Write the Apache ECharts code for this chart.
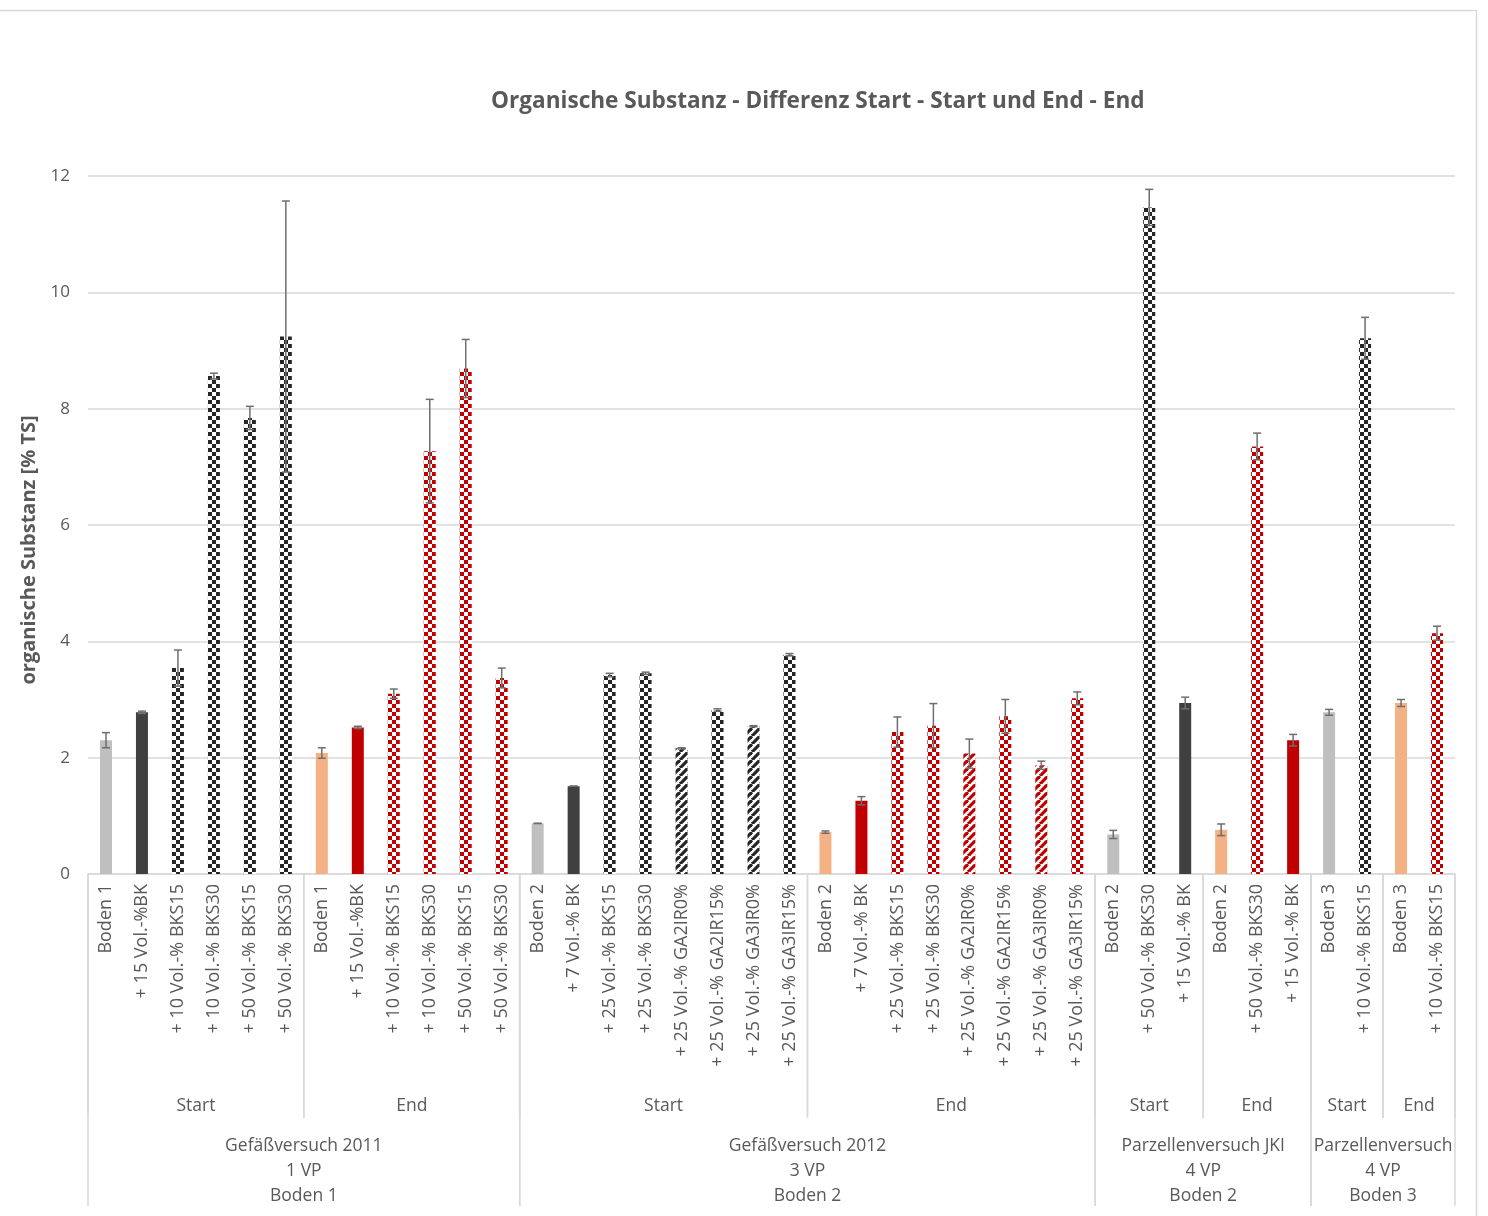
<!DOCTYPE html>
<html>
<head>
<meta charset="utf-8">
<script src="https://cdn.jsdelivr.net/npm/echarts@6/dist/echarts.min.js"></script>
<style>
  html, body { margin: 0; padding: 0; background: #fff; }
  #chart { width: 1488px; height: 1216px; }
</style>
</head>
<body>
<div id="chart"></div>
<script>
// Trials (outer axis level), phases (middle level) and treatments (inner level)
const trialLabels = [
  'Gefäßversuch 2011\n1 VP\nBoden 1',
  'Gefäßversuch 2012\n3 VP\nBoden 2',
  'Parzellenversuch JKI\n4 VP\nBoden 2',
  'Parzellenversuch\n4 VP\nBoden 3'
];
const phaseLabels = ['Start', 'End'];

const treatments = [
  ['Boden 1', '+ 15 Vol.-%BK', '+ 10 Vol.-% BKS15', '+ 10 Vol.-% BKS30', '+ 50 Vol.-% BKS15', '+ 50 Vol.-% BKS30'],
  ['Boden 2', '+ 7 Vol.-% BK', '+ 25 Vol.-% BKS15', '+ 25 Vol.-% BKS30', '+ 25 Vol.-% GA2IR0%', '+ 25 Vol.-% GA2IR15%', '+ 25 Vol.-% GA3IR0%', '+ 25 Vol.-% GA3IR15%'],
  ['Boden 2', '+ 50 Vol.-% BKS30', '+ 15 Vol.-% BK'],
  ['Boden 3', '+ 10 Vol.-% BKS15']
];

// organische Substanz [% TS], mean values
const meanStart = [
  [2.30, 2.78, 3.54, 8.56, 7.84, 9.24],
  [0.87, 1.51, 3.42, 3.45, 2.16, 2.82, 2.54, 3.77],
  [0.68, 11.46, 2.94],
  [2.78, 9.21]
];
const meanEnd = [
  [2.08, 2.52, 3.10, 7.27, 8.69, 3.37],
  [0.72, 1.26, 2.44, 2.55, 2.07, 2.71, 1.87, 3.02],
  [0.76, 7.35, 2.30],
  [2.94, 4.14]
];
// standard deviations
const sdStart = [
  [0.13, 0.02, 0.31, 0.05, 0.20, 2.33],
  [0.00, 0.00, 0.03, 0.02, 0.01, 0.02, 0.01, 0.02],
  [0.07, 0.31, 0.10],
  [0.05, 0.36]
];
const sdEnd = [
  [0.09, 0.02, 0.08, 0.89, 0.50, 0.17],
  [0.02, 0.07, 0.26, 0.38, 0.25, 0.29, 0.07, 0.11],
  [0.10, 0.23, 0.10],
  [0.06, 0.12]
];

const yTicks = [0, 2, 4, 6, 8, 10, 12];

// ---- fill patterns ----
function checker(color) {
  const c = document.createElement('canvas');
  c.width = 8; c.height = 8;
  const g = c.getContext('2d');
  g.fillStyle = '#ffffff'; g.fillRect(0, 0, 8, 8);
  g.fillStyle = color;
  g.fillRect(0, 0, 4, 4);
  g.fillRect(4, 4, 4, 4);
  return { image: c, repeat: 'repeat' };
}
function stripes(color) {
  const n = 8;
  const c = document.createElement('canvas');
  c.width = n; c.height = n;
  const g = c.getContext('2d');
  g.fillStyle = '#ffffff'; g.fillRect(0, 0, n, n);
  g.strokeStyle = color; g.lineWidth = 3.2;
  for (let k = -1; k <= 1; k++) {
    g.beginPath();
    g.moveTo(k * n, n);
    g.lineTo(k * n + n, 0);
    g.stroke();
  }
  return { image: c, repeat: 'repeat' };
}
const palette = {
  Start: { soil: '#BFBFBF', bk: '#404040', check: checker('#262626'), stripe: stripes('#262626') },
  End:   { soil: '#F4B183', bk: '#C00000', check: checker('#C00000'), stripe: stripes('#C00000') }
};
function fillFor(name, phase) {
  const p = palette[phase];
  if (/^Boden/.test(name)) return p.soil;
  if (/BK$/.test(name)) return p.bk;
  if (/IR0%$/.test(name)) return p.stripe;
  return p.check;
}

// ---- flatten into one category axis ----
const categories = [];
const barData = [];
const errData = [];
const phaseSpans = [];
const trialSpans = [];
trialLabels.forEach((trial, t) => {
  const tStart = categories.length;
  [[meanStart, sdStart], [meanEnd, sdEnd]].forEach(([means, sds], ph) => {
    const pStart = categories.length;
    treatments[t].forEach((name, i) => {
      const idx = categories.length;
      categories.push(name);
      const v = means[t][i];
      barData.push({ value: v, itemStyle: { color: fillFor(name, phaseLabels[ph]) } });
      errData.push([idx, v - sds[t][i], v + sds[t][i]]);
    });
    phaseSpans.push([pStart, categories.length - 1, phaseLabels[ph]]);
  });
  trialSpans.push([tStart, categories.length - 1, trial]);
});

const TEXT = '#595959';
const FONT = 'Open Sans';

const chart = echarts.init(document.getElementById('chart'), null, { renderer: 'canvas' });

// outer axis levels: separators and centred labels below the tick labels
function spanRenderer(lineLen, textOffset) {
  return function (params, api) {
    const a = api.value(0), b = api.value(1), label = api.value(2);
    const bw = api.size([1, 0])[0];
    const p0 = api.coord([a, 0]);
    const p1 = api.coord([b, 0]);
    const x0 = p0[0] - bw / 2, x1 = p1[0] + bw / 2, y = p0[1];
    return {
      type: 'group',
      children: [
        { type: 'line', shape: { x1: x0, y1: y, x2: x0, y2: y + lineLen }, style: { stroke: '#D9D9D9', lineWidth: 1.5 } },
        { type: 'line', shape: { x1: x1, y1: y, x2: x1, y2: y + lineLen }, style: { stroke: '#D9D9D9', lineWidth: 1.5 } },
        { type: 'text', x: (x0 + x1) / 2, y: y + textOffset,
          style: { text: label, fill: TEXT, font: '17.5px "' + FONT + '"', align: 'center', verticalAlign: 'top', lineHeight: 25 } }
      ]
    };
  };
}

chart.setOption({
  animation: false,
  backgroundColor: '#ffffff',
  title: {
    text: 'Organische Substanz - Differenz Start - Start und End - End',
    left: 486, top: 85,
    textStyle: { fontFamily: FONT, fontSize: 22.6, fontWeight: 'bold', color: TEXT }
  },
  graphic: [
    { type: 'polyline', shape: { points: [[0, 10.5], [1476.5, 10.5], [1476.5, 1216]] }, style: { stroke: '#D9D9D9', lineWidth: 1.5, fill: null } }
  ],
  grid: { left: 88, right: 33, top: 176, bottom: 342, containLabel: false },
  xAxis: {
    type: 'category',
    data: categories,
    axisLine: { lineStyle: { color: '#D9D9D9', width: 1.5 } },
    axisTick: { show: false },
    axisLabel: { interval: 0, rotate: 90, color: TEXT, fontFamily: FONT, fontSize: 18, margin: 10 }
  },
  yAxis: {
    type: 'value',
    min: yTicks[0], max: yTicks[yTicks.length - 1], interval: 2,
    name: 'organische Substanz [% TS]',
    nameLocation: 'middle', nameGap: 47,
    nameTextStyle: { fontFamily: FONT, fontSize: 20, fontWeight: 'bold', color: TEXT, padding: [0, 50, 0, 0] },
    axisLine: { show: false }, axisTick: { show: false },
    axisLabel: { color: TEXT, fontFamily: FONT, fontSize: 17, margin: 18 },
    splitLine: { lineStyle: { color: '#D9D9D9', width: 1.5 } }
  },
  series: [
    {
      type: 'bar',
      data: barData,
      barWidth: 12
    },
    {
      type: 'custom',
      data: errData,
      z: 5,
      renderItem: function (params, api) {
        const x = api.value(0);
        const lo = api.coord([x, api.value(1)]);
        const hi = api.coord([x, api.value(2)]);
        const cap = 4;
        const s = { stroke: '#6E6E6E', lineWidth: 1.5 };
        return {
          type: 'group',
          children: [
            { type: 'line', shape: { x1: lo[0], y1: lo[1], x2: hi[0], y2: hi[1] }, style: s },
            { type: 'line', shape: { x1: hi[0] - cap, y1: hi[1], x2: hi[0] + cap, y2: hi[1] }, style: s },
            { type: 'line', shape: { x1: lo[0] - cap, y1: lo[1], x2: lo[0] + cap, y2: lo[1] }, style: s }
          ]
        };
      }
    },
    {
      type: 'custom', data: phaseSpans, clip: false, silent: true,
      renderItem: spanRenderer(244, 220)
    },
    {
      type: 'custom', data: trialSpans, clip: false, silent: true,
      renderItem: spanRenderer(332, 260)
    }
  ]
});
</script>
</body>
</html>
